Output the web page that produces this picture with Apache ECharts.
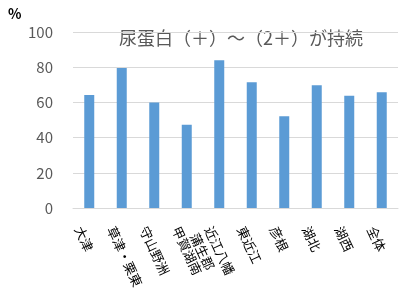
<!DOCTYPE html>
<html><head><meta charset="utf-8">
<script src="https://cdn.jsdelivr.net/npm/echarts@6/dist/echarts.min.js"></script>
<style>html,body{margin:0;padding:0;background:#fff}#c{width:405px;height:296px}</style>
</head><body><div id="c"></div>
<script>
const categories = ['大津', '草津・栗東', '守山野洲', '甲賀湖南', '近江八幡\n蒲生郡', '東近江', '彦根', '湖北', '湖西', '全体'];
const values = [64.2, 79.5, 60.0, 47.3, 83.9, 71.4, 52.1, 69.7, 63.8, 65.7];
const yTicks = [0, 20, 40, 60, 80, 100];
const titleText = '尿蛋白（＋）～（2＋）が持続';
const unitText = '%';

const font = '"Noto Sans CJK JP", "Noto Sans", sans-serif';
const chart = echarts.init(document.getElementById('c'), null, {renderer: 'canvas'});
chart.setOption({
  animation: false,
  textStyle: {fontFamily: font},
  graphic: [
    {type: 'text', left: 8, top: 7, style: {text: unitText, fontSize: 14, fontWeight: 'bold', fill: '#000', fontFamily: font}},
    {type: 'text', left: 119, top: 29, style: {text: titleText, fontSize: 18, fill: '#595959', fontFamily: font}}
  ],
  grid: {left: 73, right: 7, top: 32, bottom: 88, containLabel: false, outerBoundsMode: 'none'},
  xAxis: {
    type: 'category', data: categories,
    axisLine: {lineStyle: {color: '#d9d9d9'}},
    axisTick: {show: false},
    axisLabel: {interval: 0, rotate: -65, align: 'left', verticalAlign: 'top', color: '#000', fontSize: 13, margin: 14, lineHeight: 16, padding: [4, 0, 0, 0], fontFamily: font}
  },
  yAxis: {
    type: 'value', min: yTicks[0], max: yTicks[yTicks.length - 1], interval: 20,
    axisLine: {show: false}, axisTick: {show: false},
    splitLine: {lineStyle: {color: '#d9d9d9'}},
    axisLabel: {color: '#595959', fontSize: 15, margin: 20, fontFamily: font}
  },
  series: [{type: 'bar', data: values, barWidth: 10, itemStyle: {color: '#5b9bd5'}}]
});
</script></body></html>
